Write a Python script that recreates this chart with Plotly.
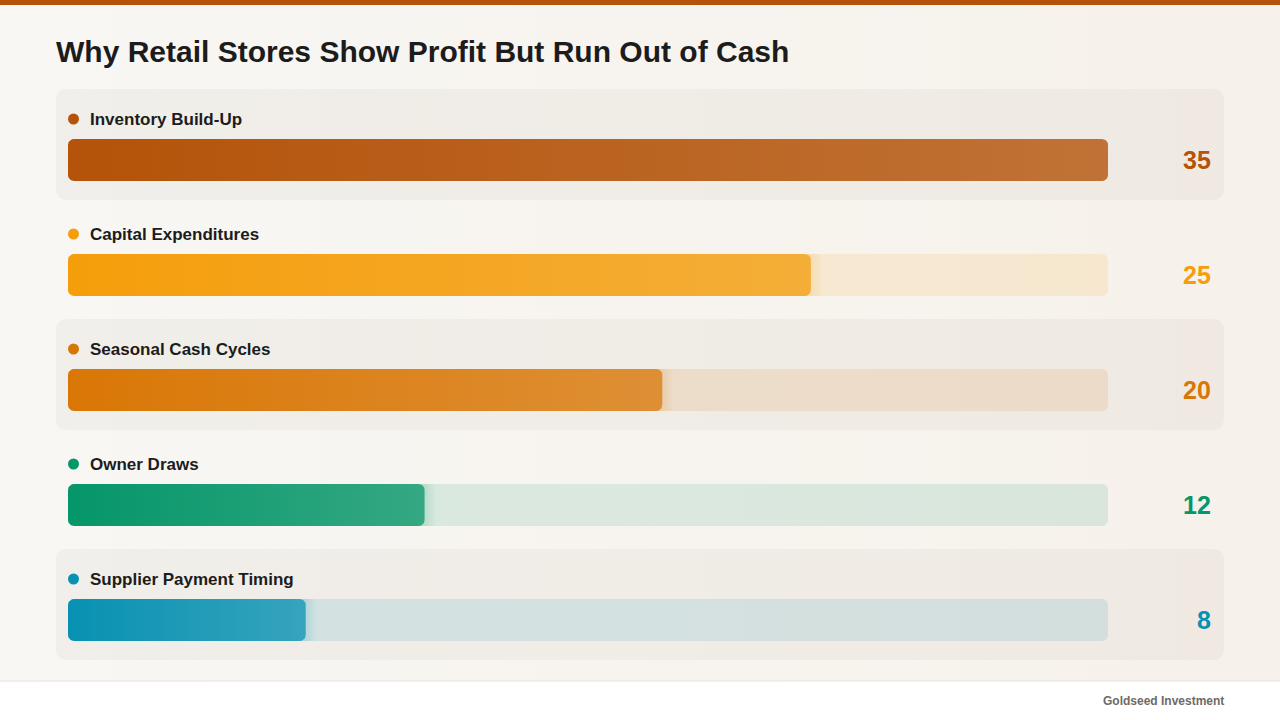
import math
import plotly.graph_objects as go

# ---------------- data ----------------
categories = ["Inventory Build-Up", "Capital Expenditures", "Seasonal Cash Cycles",
              "Owner Draws", "Supplier Payment Timing"]
values = [35, 25, 20, 12, 8]
colors = ["#B45309", "#F59E0B", "#D97706", "#059669", "#0891B2"]
title_text = "Why Retail Stores Show Profit But Run Out of Cash"
source_text = "Goldseed Investment"

# ---------------- layout constants (pixels) ----------------
W, H = 1280, 720
PANEL_L, PANEL_R = 56, 1224
BAR_L, BAR_R = 68, 1108
ROW_TOP0, ROW_STEP, ROW_H = 89, 115, 111
LABEL_DY, BAR_DY, BAR_H = 30, 50, 42
BAR_RAD, PANEL_RAD = 6, 10
GLOW = 12
FONT = "Liberation Sans, Arial, Helvetica, sans-serif"

vmax = max(values)
kx = (BAR_R - BAR_L) / vmax  # px per value unit


def hex_rgb(h):
    h = h.lstrip("#")
    return tuple(int(h[i:i + 2], 16) for i in (0, 2, 4))


def mix(h, other=(240, 238, 234), a=0.8):
    r, g, b = hex_rgb(h)
    return "rgb(%d,%d,%d)" % (round(r * a + other[0] * (1 - a)),
                              round(g * a + other[1] * (1 - a)),
                              round(b * a + other[2] * (1 - a)))


def rgba(h, a):
    r, g, b = hex_rgb(h)
    return "rgba(%d,%d,%d,%.3f)" % (r, g, b, a)


def rrect(x0, x1, y0, y1, rx, ry, n=10):
    xs, ys = [], []
    corners = [(x1 - rx, y0 + ry, -90), (x1 - rx, y1 - ry, 0),
               (x0 + rx, y1 - ry, 90), (x0 + rx, y0 + ry, 180)]
    for cx, cy, a0 in corners:
        for i in range(n + 1):
            a = math.radians(a0 + 90 * i / n)
            xs.append(cx + rx * math.cos(a))
            ys.append(cy + ry * math.sin(a))
    xs.append(xs[0])
    ys.append(ys[0])
    return xs, ys


fig = go.Figure()

# background gradient (page axis x / y)
fig.add_trace(go.Scatter(
    x=[0, W, W, 0, 0], y=[0, 0, H, H, 0], xaxis="x", yaxis="y",
    mode="lines", fill="toself", line=dict(width=0, color="rgba(0,0,0,0)"),
    fillgradient=dict(type="horizontal", colorscale=[[0, "#F8F7F4"], [1, "#F6F1EA"]]),
    hoverinfo="skip", showlegend=False))

# alternating panels
for i in range(len(categories)):
    if i % 2 == 0:
        top = ROW_TOP0 + i * ROW_STEP
        xs, ys = rrect(PANEL_L, PANEL_R, top, top + ROW_H, PANEL_RAD, PANEL_RAD)
        fig.add_trace(go.Scatter(
            x=xs, y=ys, xaxis="x", yaxis="y", mode="lines", fill="toself",
            fillcolor="rgba(110,95,80,0.05)", line=dict(width=0, color="rgba(0,0,0,0)"),
            hoverinfo="skip", showlegend=False))

bar_centers = [ROW_TOP0 + i * ROW_STEP + BAR_DY + BAR_H / 2 for i in range(len(categories))]

# tracks (value axis x2)
fig.add_trace(go.Bar(
    orientation="h", x=[vmax] * len(values), y=bar_centers, base=0, width=BAR_H,
    xaxis="x2", yaxis="y",
    marker=dict(color=[rgba(c, 0.12) for c in colors], cornerradius=BAR_RAD,
                line=dict(width=0)),
    hoverinfo="skip", showlegend=False))

# soft glow after bar end
for v, c, yc in zip(values, colors, bar_centers):
    if v < vmax:
        g1 = v + GLOW / kx
        fig.add_trace(go.Scatter(
            x=[v - BAR_RAD / kx, g1, g1, v - BAR_RAD / kx, v - BAR_RAD / kx],
            y=[yc - BAR_H / 2, yc - BAR_H / 2, yc + BAR_H / 2, yc + BAR_H / 2, yc - BAR_H / 2],
            xaxis="x2", yaxis="y", mode="lines", fill="toself",
            line=dict(width=0, color="rgba(0,0,0,0)"),
            fillgradient=dict(type="horizontal",
                              colorscale=[[0, rgba(c, 0.22)], [0.35, rgba(c, 0.15)], [1, rgba(c, 0.0)]]),
            hoverinfo="skip", showlegend=False))

# value bars with gradient
for v, c, yc in zip(values, colors, bar_centers):
    xs, ys = rrect(0, v, yc - BAR_H / 2, yc + BAR_H / 2, BAR_RAD / kx, BAR_RAD)
    fig.add_trace(go.Scatter(
        x=xs, y=ys, xaxis="x2", yaxis="y", mode="lines", fill="toself",
        line=dict(width=0, color="rgba(0,0,0,0)"),
        fillgradient=dict(type="horizontal", colorscale=[[0, c], [1, mix(c)]]),
        hoverinfo="skip", showlegend=False))

shapes = []
annotations = []

# top accent strip
shapes.append(dict(type="rect", xref="x", yref="y", x0=0, x1=W, y0=0, y1=5,
                   fillcolor="#B45309", line=dict(width=0)))

# footer
shapes.append(dict(type="rect", xref="x", yref="y", x0=0, x1=W, y0=681, y1=H,
                   fillcolor="#FFFFFF", line=dict(width=0)))
shapes.append(dict(type="line", xref="x", yref="y", x0=0, x1=W, y0=681, y1=681,
                   line=dict(width=1, color="#E6E2DC")))

annotations.append(dict(text=title_text, xref="x", yref="y", x=54, y=51,
                        xanchor="left", yanchor="middle", showarrow=False,
                        font=dict(family=FONT, size=30, color="#1C1C1C", weight="bold")))
annotations.append(dict(text=source_text, xref="x", yref="y", x=1226, y=701,
                        xanchor="right", yanchor="middle", showarrow=False,
                        font=dict(family=FONT, size=12, color="#6E6A66", weight="bold")))

for i, (cat, v, c) in enumerate(zip(categories, values, colors)):
    top = ROW_TOP0 + i * ROW_STEP
    ly = top + LABEL_DY
    shapes.append(dict(type="circle", xref="x", yref="y", x0=68, x1=79,
                       y0=ly - 5.5, y1=ly + 5.5, fillcolor=c, line=dict(width=0)))
    annotations.append(dict(text=cat, xref="x", yref="y", x=88, y=ly,
                            xanchor="left", yanchor="middle", showarrow=False,
                            font=dict(family=FONT, size=17, color="#1C1C1C", weight="bold")))
    annotations.append(dict(text=str(v), xref="x", yref="y", x=1213, y=bar_centers[i],
                            xanchor="right", yanchor="middle", showarrow=False,
                            font=dict(family=FONT, size=25, color=c, weight="bold")))

fig.update_layout(
    width=W, height=H, autosize=False,
    margin=dict(l=0, r=0, t=0, b=0, pad=0),
    paper_bgcolor="#F7F5F1", plot_bgcolor="rgba(0,0,0,0)",
    showlegend=False, barmode="overlay",
    xaxis=dict(domain=[0, 1], range=[0, W], visible=False, fixedrange=True),
    xaxis2=dict(domain=[BAR_L / W, BAR_R / W], range=[0, vmax], visible=False,
                fixedrange=True, anchor="y"),
    yaxis=dict(domain=[0, 1], range=[H, 0], visible=False, fixedrange=True),
    shapes=shapes, annotations=annotations,
)

fig.write_html("out.html", config={"displayModeBar": False})
